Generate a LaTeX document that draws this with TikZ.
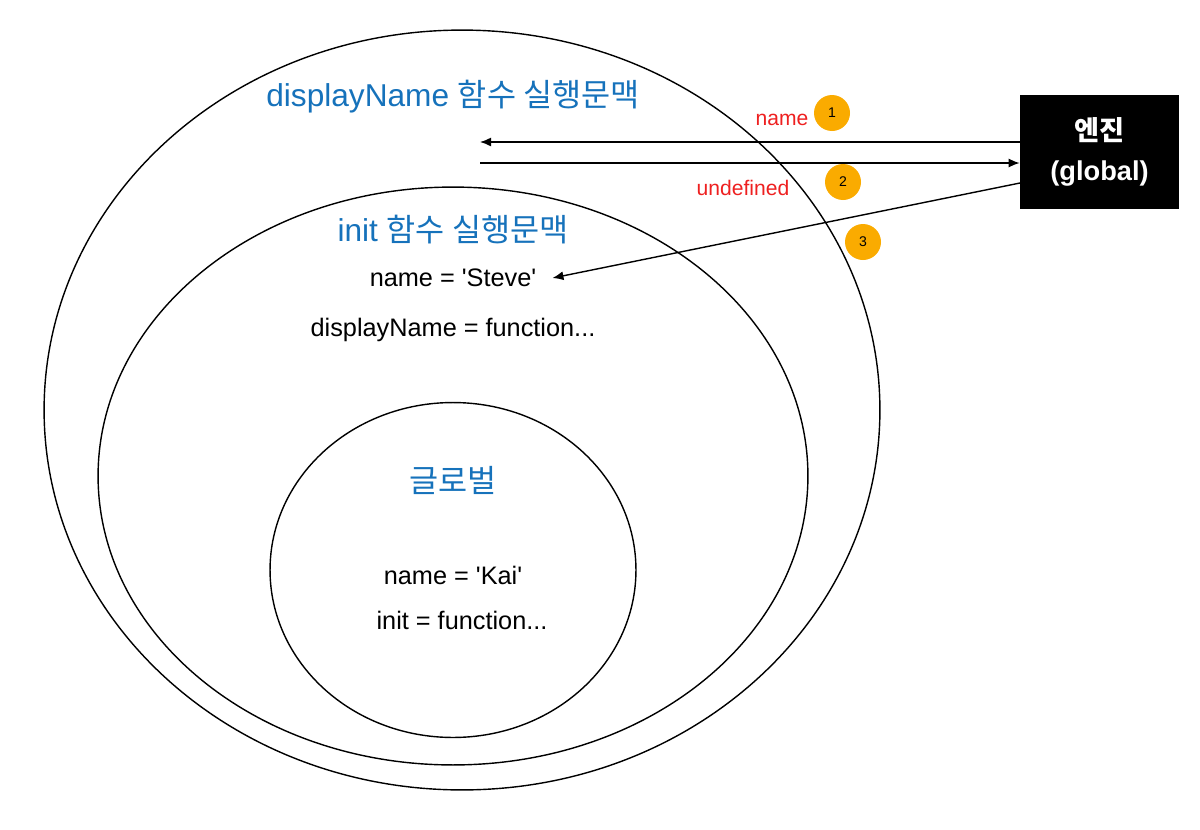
\documentclass[tikz,border=0pt]{standalone}
\usepackage{fontspec}
\setmainfont{Liberation Sans}[Ligatures=TeXOff]
\newfontfamily\krfont{Noto Sans CJK KR}
\usetikzlibrary{shapes.geometric, arrows.meta, positioning}
\definecolor{ctxblue}{RGB}{22, 114, 187}
\definecolor{valred}{RGB}{238, 32, 32}
\definecolor{stepyellow}{RGB}{250, 171, 0}

\begin{document}
\begin{tikzpicture}[
    x=0.02cm, y=-0.02cm,
    context/.style={draw, ellipse, line width=0.8pt, inner sep=0pt},
    title/.style={text=ctxblue, font=\fontsize{18}{21}\selectfont},
    code/.style={font=\fontsize{14.4}{17}\selectfont},
    value/.style={text=valred, font=\fontsize{12}{14}\selectfont},
    badge/.style={circle, fill=stepyellow, minimum size=0.72cm, inner sep=0pt,
                  font=\fontsize{8}{9}\selectfont},
    engine/.style={fill=black, text=white, minimum width=3.18cm, minimum height=2.28cm,
                   align=center, font=\fontsize{15.5}{22.7}\selectfont\bfseries},
    arrow/.style={-{Latex[length=2.2mm, width=1.8mm]}, line width=0.8pt}
]
    \useasboundingbox (0,0) rectangle (1200,829);

    % execution contexts
    \node[context, minimum width=16.72cm, minimum height=15.2cm] (outer) at (462,410) {};
    \node[context, minimum width=14.2cm, minimum height=11.56cm] (middle) at (453,476) {};
    \node[context, minimum width=7.32cm, minimum height=6.7cm] (inner) at (453,570) {};

    \node[title] (displayctx) at (453,97) {displayName {\krfont 함수 실행문맥}};
    \node[title] (initctx) at (453,230) {init {\krfont 함수 실행문맥}};
    \node[title] (globalctx) at (453,480) {\krfont 글로벌};

    \node[code] (steve) at (453,278) {name = 'Steve'};
    \node[code] (displayfn) at (453,330) {displayName = function...};
    \node[code] (kai) at (453,575) {name = 'Kai'};
    \node[code] (initfn) at (462,620) {init = function...};

    % engine
    \node[engine] (engine) at (1099.5,152) {{\krfont 엔진}\\(global)};

    \coordinate (ret) at (480,142);
    \coordinate (call) at (480,163);
    \coordinate (set) at (1020,183);

    \draw[arrow] (engine.west |- ret) -- (ret);
    \draw[arrow] (call) -- (engine.west |- call);
    \draw[arrow] (set) -- ([xshift=0.2cm]steve.east);

    \node[value] (namelbl) at (782,120) {name};
    \node[value] (undeflbl) at (743,188) {undefined};

    \node[badge] (step1) at (832,113) {1};
    \node[badge] (step2) at (843,182) {2};
    \node[badge] (step3) at (863,242) {3};
\end{tikzpicture}
\end{document}
